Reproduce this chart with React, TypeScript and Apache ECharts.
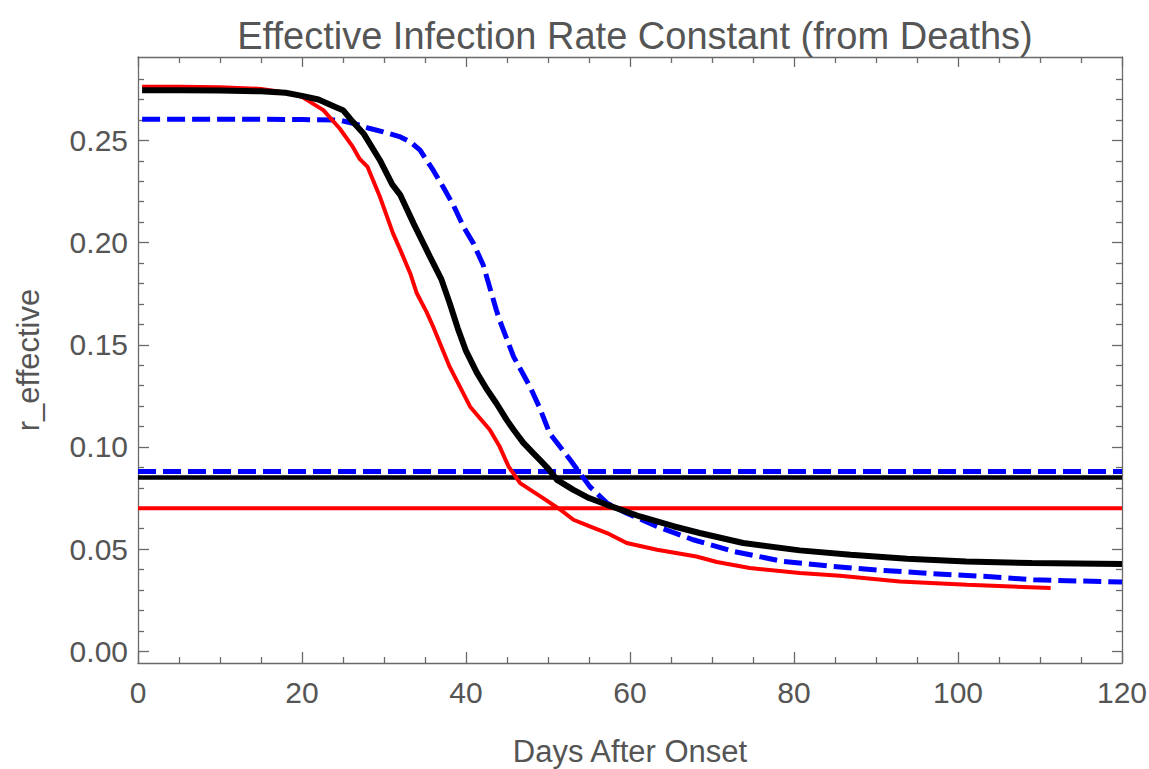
import React, { useEffect, useRef } from 'react';
import * as echarts from 'echarts';

// ---- Data ----
const blackDays = [0.5, 5, 10, 15, 18, 20, 22, 24, 25, 26, 27.5, 29.5, 31, 32, 33.6, 35.6, 37, 38, 39, 40, 41.3, 42.5, 43.7, 45, 45.8, 47, 48.2, 49, 50, 51.1, 53.1, 55, 57.2, 61.2, 65.4, 68.5, 73.8, 80.7, 86.9, 93.8, 101, 109, 120];
const blackValues = [0.2745, 0.2745, 0.2744, 0.274, 0.2733, 0.2718, 0.27, 0.2665, 0.2648, 0.26, 0.2534, 0.2403, 0.2285, 0.2232, 0.2094, 0.1931, 0.182, 0.1705, 0.158, 0.147, 0.1365, 0.1285, 0.1214, 0.113, 0.1084, 0.102, 0.097, 0.0937, 0.0895, 0.0839, 0.079, 0.075, 0.0717, 0.066, 0.0611, 0.0579, 0.053, 0.0494, 0.0473, 0.0453, 0.044, 0.0432, 0.0427];

const redDays = [0.5, 5, 10, 15, 18, 20, 22.6, 24.6, 26.2, 27, 28, 29.5, 31.1, 32, 33.2, 34, 35.2, 36, 38, 40.5, 42.9, 44.1, 45.2, 46.6, 49.4, 51.5, 53.1, 55.1, 57.2, 59.6, 63.3, 68.1, 70.6, 74.6, 80.7, 85.6, 92.9, 101.1, 111.3];
const redValues = [0.2762, 0.2762, 0.276, 0.2752, 0.2735, 0.2713, 0.2648, 0.2558, 0.2468, 0.2411, 0.237, 0.2224, 0.2045, 0.1963, 0.1849, 0.1752, 0.166, 0.1588, 0.1393, 0.1197, 0.1084, 0.1002, 0.0904, 0.0823, 0.075, 0.0693, 0.0644, 0.0611, 0.0579, 0.053, 0.0497, 0.0464, 0.0437, 0.0408, 0.0383, 0.037, 0.0342, 0.0326, 0.031];

const blueDays = [0.5, 10, 20, 24.6, 26.2, 28.3, 29.9, 32, 33.2, 34.4, 35.2, 36, 37.2, 38.5, 39.7, 40.9, 42.1, 43.7, 44.1, 45.8, 47.8, 49, 50.2, 52.7, 55.1, 57.2, 59.6, 63.3, 67.7, 72.6, 78.7, 84.8, 90.9, 97, 103.1, 109.2, 120];
const blueValues = [0.2604, 0.2604, 0.2602, 0.2599, 0.2584, 0.2558, 0.2542, 0.2517, 0.2493, 0.2452, 0.2403, 0.2354, 0.2273, 0.218, 0.2077, 0.1996, 0.189, 0.167, 0.162, 0.1442, 0.1295, 0.119, 0.1067, 0.0937, 0.0806, 0.0725, 0.0676, 0.0611, 0.0546, 0.0489, 0.044, 0.0415, 0.0396, 0.038, 0.0367, 0.035, 0.0339];

const blueLevel = 0.088;
const blackLevel = 0.085;
const redLevel = 0.07;
const levelSpan = [0, 120];

const xMajorTicks = [0, 20, 40, 60, 80, 100, 120];
const xMinorTicks = [5, 10, 15, 25, 30, 35, 45, 50, 55, 65, 70, 75, 85, 90, 95, 105, 110, 115];
const yMajorTicks = [0, 0.05, 0.1, 0.15, 0.2, 0.25];
const yMinorTicks = [0.01, 0.02, 0.03, 0.04, 0.06, 0.07, 0.08, 0.09, 0.11, 0.12, 0.13, 0.14, 0.16, 0.17, 0.18, 0.19, 0.21, 0.22, 0.23, 0.24, 0.26, 0.27, 0.28];

const X_MIN = 0;
const X_MAX = 120;
const Y_MIN = -0.0057;
const Y_MAX = 0.2908;

const FONT = "'Liberation Sans', Arial, sans-serif";
const TEXT_COLOR = '#555555';
const FRAME_COLOR = '#6a6a6a';

function pairs(xs: number[], ys: number[]) {
  return xs.map((x, i) => [x, ys[i]]);
}

export default function App() {
  const ref = useRef<HTMLDivElement>(null);

  useEffect(() => {
    if (!ref.current) return;
    const chart = echarts.init(ref.current, undefined, { renderer: 'svg' });
    const frameLine = { color: FRAME_COLOR, width: 1.3 };

    const xAxisBase = {
      type: 'value' as const,
      min: X_MIN,
      max: X_MAX,
      splitLine: { show: false },
    };
    const yAxisBase = {
      type: 'value' as const,
      min: Y_MIN,
      max: Y_MAX,
      splitLine: { show: false },
    };

    const option: any = {
      animation: false,
      backgroundColor: '#ffffff',
      title: {
        text: 'Effective Infection Rate Constant (from Deaths)',
        left: 630,
        top: 12,
        textAlign: 'center',
        textStyle: { fontSize: 38, fontWeight: 'normal', color: TEXT_COLOR, fontFamily: FONT },
      },
      grid: { left: 138, top: 57, right: 27, bottom: 106, containLabel: false, outerBoundsMode: 'none' },
      xAxis: [
        {
          ...xAxisBase,
          position: 'bottom',
          axisLine: { show: true, onZero: false, lineStyle: frameLine },
          axisTick: { show: true, inside: true, length: 11, customValues: xMajorTicks, lineStyle: frameLine },
          axisLabel: { show: true, customValues: xMajorTicks, fontSize: 30, color: TEXT_COLOR, fontFamily: FONT, margin: 14 },
          name: 'Days After Onset',
          nameLocation: 'middle',
          nameGap: 73,
          nameTextStyle: { fontSize: 31, color: TEXT_COLOR, fontFamily: FONT },
        },
        {
          ...xAxisBase,
          position: 'bottom',
          axisLine: { show: false, onZero: false },
          axisTick: { show: true, inside: true, length: 6, customValues: xMinorTicks, lineStyle: frameLine },
          axisLabel: { show: false },
        },
        {
          ...xAxisBase,
          position: 'top',
          axisLine: { show: true, onZero: false, lineStyle: frameLine },
          axisTick: { show: true, inside: true, length: 10, customValues: xMajorTicks, lineStyle: frameLine },
          axisLabel: { show: false },
        },
        {
          ...xAxisBase,
          position: 'top',
          axisLine: { show: false, onZero: false },
          axisTick: { show: true, inside: true, length: 6, customValues: xMinorTicks, lineStyle: frameLine },
          axisLabel: { show: false },
        },
      ],
      yAxis: [
        {
          ...yAxisBase,
          position: 'left',
          axisLine: { show: true, onZero: false, lineStyle: frameLine },
          axisTick: { show: true, inside: true, length: 11, customValues: yMajorTicks, lineStyle: frameLine },
          axisLabel: {
            show: true,
            customValues: yMajorTicks,
            fontSize: 30,
            color: TEXT_COLOR,
            fontFamily: FONT,
            margin: 10,
            formatter: (v: number) => v.toFixed(2),
          },
          name: 'r_effective',
          nameLocation: 'middle',
          nameGap: 94,
          nameTextStyle: { fontSize: 31, color: TEXT_COLOR, fontFamily: FONT },
        },
        {
          ...yAxisBase,
          position: 'left',
          axisLine: { show: false, onZero: false },
          axisTick: { show: true, inside: true, length: 6, customValues: yMinorTicks, lineStyle: frameLine },
          axisLabel: { show: false },
        },
        {
          ...yAxisBase,
          position: 'right',
          axisLine: { show: true, onZero: false, lineStyle: frameLine },
          axisTick: { show: true, inside: true, length: 10, customValues: yMajorTicks, lineStyle: frameLine },
          axisLabel: { show: false },
        },
        {
          ...yAxisBase,
          position: 'right',
          axisLine: { show: false, onZero: false },
          axisTick: { show: true, inside: true, length: 6, customValues: yMinorTicks, lineStyle: frameLine },
          axisLabel: { show: false },
        },
      ],
      series: [
        {
          name: 'blue level',
          type: 'line',
          data: levelSpan.map((x) => [x, blueLevel]),
          symbol: 'none',
          lineStyle: { color: '#0000ff', width: 5, type: [18, 7] },
          silent: true,
        },
        {
          name: 'black level',
          type: 'line',
          data: levelSpan.map((x) => [x, blackLevel]),
          symbol: 'none',
          lineStyle: { color: '#000000', width: 4.5 },
          silent: true,
        },
        {
          name: 'red level',
          type: 'line',
          data: levelSpan.map((x) => [x, redLevel]),
          symbol: 'none',
          lineStyle: { color: '#ff0000', width: 4 },
          silent: true,
        },
        {
          name: 'blue',
          type: 'line',
          data: pairs(blueDays, blueValues),
          symbol: 'none',
          lineStyle: { color: '#0000ff', width: 5, type: [18, 7] },
          silent: true,
        },
        {
          name: 'red',
          type: 'line',
          data: pairs(redDays, redValues),
          symbol: 'none',
          lineStyle: { color: '#ff0000', width: 4 },
          silent: true,
        },
        {
          name: 'black',
          type: 'line',
          data: pairs(blackDays, blackValues),
          symbol: 'none',
          lineStyle: { color: '#000000', width: 6 },
          silent: true,
        },
      ],
    };

    chart.setOption(option);
    return () => chart.dispose();
  }, []);

  return (
    <div
      ref={ref}
      style={{ position: 'fixed', left: 0, top: 0, width: 1149, height: 769, background: '#fff' }}
    />
  );
}
